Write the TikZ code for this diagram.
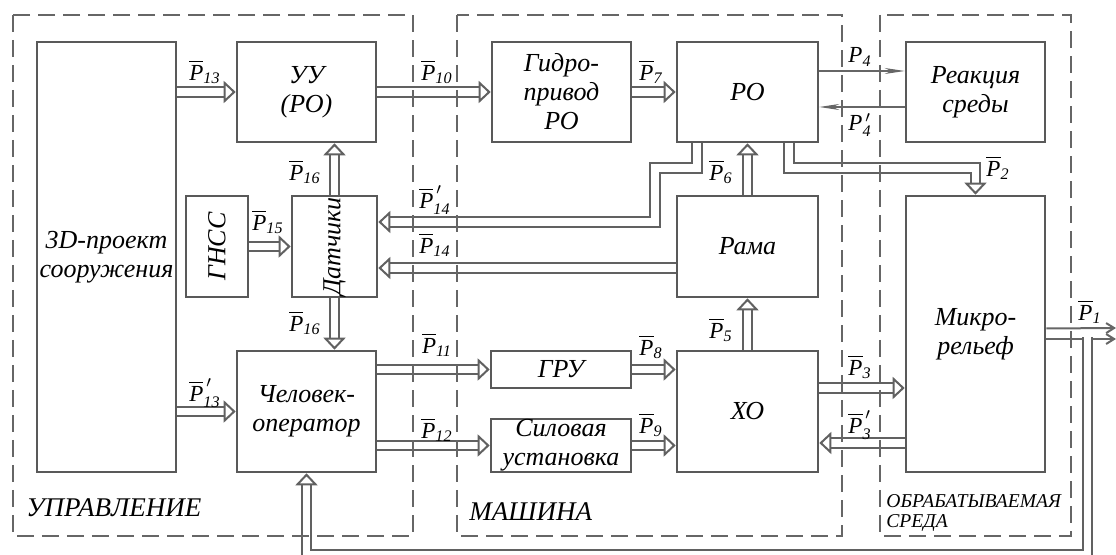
\documentclass[tikz,border=0pt]{standalone}
\usepackage{amsmath}
\usepackage{fontspec}
\setmainfont{Liberation Serif}
\usetikzlibrary{arrows.meta}
\tikzset{
  blk/.style ={draw=black!65, line width=1.3pt, inner sep=0pt, align=center,
               font=\fontsize{13}{14.5}\selectfont\itshape},
  zone/.style={draw=black!60, line width=1pt, dash pattern=on 8.5pt off 4pt},
  chan/.style={draw=black!62, line width=1pt, double=white,
               double distance=3.6pt,
               -{Triangle[length=6pt, width=11pt, fill=white, line width=1pt]}},
  sig/.style ={draw=black!60, line width=0.6pt,
               -{Stealth[length=10pt, width=3pt]}},
  ray/.style ={draw=black!60, line width=1pt,
               -{Straight Barb[length=4pt, width=5pt]}},
  plab/.style={font=\fontsize{11.5}{12}\selectfont, inner sep=0pt},
  zlab/.style={font=\fontsize{13.5}{15}\selectfont\itshape, inner sep=0pt,
               anchor=west},
}
\newcommand{\pvec}[1]{$\overline{\text{\itshape P}}_{\text{\itshape #1}}$}
\newcommand{\pvecp}[1]{$\overline{\text{\itshape P}}^{\,\prime}_{\text{\itshape #1}}$}
\newcommand{\pval}[1]{$\text{\itshape P}_{\text{\itshape #1}}$}
\newcommand{\pvalp}[1]{$\text{\itshape P}^{\,\prime}_{\text{\itshape #1}}$}
\begin{document}
\begin{tikzpicture}[x=0.5pt, y=-0.5pt]
  \clip (0,0) rectangle (1116,555);
  % control side
  \node[blk, minimum width=69.5pt, minimum height=215pt] (proj) at (106.5,257) {3D-проект\\сооружения};
  \node[blk, minimum width=69.5pt, minimum height=50pt] (uu) at (306.5,92) {УУ\\(РО)};
  \node[blk, rotate=90, minimum width=50.5pt, minimum height=31pt] (gnss) at (217,246.5) {ГНСС};
  \node[blk, rotate=90, minimum width=50.5pt, minimum height=42.5pt] (sens) at (334.5,246.5) {Датчики};
  \node[blk, minimum width=69.5pt, minimum height=60.5pt] (oper) at (306.5,411.5) {Человек-\\оператор};
  % machine
  \node[blk, minimum width=69.5pt, minimum height=50pt] (gidro) at (561.5,92) {Гидро-\\привод\\РО};
  \node[blk, minimum width=70.5pt, minimum height=50pt] (ro) at (747.5,92) {РО};
  \node[blk, minimum width=70.5pt, minimum height=50.5pt] (rama) at (747.5,246.5) {Рама};
  \node[blk, minimum width=70pt, minimum height=18.5pt] (gru) at (561,369.5) {ГРУ};
  \node[blk, minimum width=70pt, minimum height=26.5pt] (silo) at (561,445.5) {Силовая\\установка};
  \node[blk, minimum width=70.5pt, minimum height=60.5pt] (xo) at (747.5,411.5) {ХО};
  % medium
  \node[blk, minimum width=69.5pt, minimum height=50pt] (react) at (975.5,92) {Реакция\\среды};
  \node[blk, minimum width=69.5pt, minimum height=138pt] (micro) at (975.5,334) {Микро-\\рельеф};
  % free ends
  \coordinate (p1a) at (1116,328);
  \coordinate (p1b) at (1116,339);
  \coordinate (fbtop) at (1087.5,337.5);
  \coordinate (fbcorner) at (1087.5,554.5);

  % double channels
  \draw[chan] (uu.west -| proj.east) -- (uu.west);
  \draw[chan] (oper.west -| proj.east) -- (oper.west);
  \draw[chan] (uu.east) -- (gidro.west);
  \draw[chan] (gidro.east) -- (ro.west);
  \draw[chan] (sens.east) -- (uu.south -| sens.east);
  \draw[chan] (sens.west) -- (oper.north -| sens.west);
  \draw[chan] (gnss.south) -- (sens.north);
  \draw[chan] ([xshift=-25.25pt]ro.south) -- (697,168) -- (655,168) -- (655,222)
    -- (sens.south |- 655,222);
  \draw[chan] ([yshift=-10.75pt]rama.west) -- ([yshift=-10.75pt]rama.west -| sens.south);
  \draw[chan] (rama.north) -- (ro.south);
  \draw[chan] ([xshift=20.75pt]ro.south) -- (789,168) -- (micro.north |- 789,168)
    -- (micro.north);
  \draw[chan] (xo.north) -- (rama.south);
  \draw[chan] (gru.west -| oper.east) -- (gru.west);
  \draw[chan] (silo.west -| oper.east) -- (silo.west);
  \draw[chan] (gru.east) -- (gru.east -| xo.west);
  \draw[chan] (silo.east) -- (silo.east -| xo.west);
  \draw[chan] ([yshift=11.75pt]xo.east) -- ([yshift=11.75pt]xo.east -| micro.west);
  \draw[chan] ([yshift=-15.75pt]xo.east -| micro.west) -- ([yshift=-15.75pt]xo.east);
  % thin links to the medium reaction
  \draw[sig] ([yshift=10.5pt]ro.east) -- ([yshift=10.5pt]react.west);
  \draw[sig] ([yshift=-7.5pt]react.west) -- ([yshift=-7.5pt]ro.east);
  % output and feedback
  \draw[ray] ([yshift=2.75pt]micro.east) -- (p1a);
  \draw[ray] ([yshift=-2.5pt]micro.east) -- (p1b);
  \draw[chan] (fbtop) -- (fbcorner) -| (oper.south);

  % labels
  \node[plab] (l13) at (205,72) {\pvec{13}};
  \node[plab] (l13p) at (205,393) {\pvecp{13}};
  \node[plab] (l10) at (437,72) {\pvec{10}};
  \node[plab] (l7) at (651,72) {\pvec{7}};
  \node[plab] (l4) at (860,57) {\pval{4}};
  \node[plab] (l4p) at (860,125) {\pvalp{4}};
  \node[plab] (l16a) at (305,172) {\pvec{16}};
  \node[plab] (l16b) at (305,323) {\pvec{16}};
  \node[plab] (l15) at (268,222) {\pvec{15}};
  \node[plab] (l14p) at (435,200) {\pvecp{14}};
  \node[plab] (l14) at (435,245) {\pvec{14}};
  \node[plab] (l6) at (721,172) {\pvec{6}};
  \node[plab] (l2) at (998,168) {\pvec{2}};
  \node[plab] (l5) at (721,330) {\pvec{5}};
  \node[plab] (l11) at (437,345) {\pvec{11}};
  \node[plab] (l8) at (651,347) {\pvec{8}};
  \node[plab] (l12) at (437,430) {\pvec{12}};
  \node[plab] (l9) at (651,425) {\pvec{9}};
  \node[plab] (l3) at (860,367) {\pvec{3}};
  \node[plab] (l3p) at (860,425) {\pvecp{3}};
  \node[plab] (l1) at (1090,312) {\pvec{1}};

  % zones
  \draw[zone] (13,15) rectangle (413,536);
  \draw[zone] (457,15) rectangle (842,536);
  \draw[zone] (880,15) rectangle (1071,536);
  \node[zlab] (zctl) at (26,508) {УПРАВЛЕНИЕ};
  \node[zlab] (zmach) at (469,512) {МАШИНА};
  \node[zlab, anchor=north west, align=left, font=\fontsize{9.8}{10}\selectfont\itshape]
    (zenv) at (886,494) {ОБРАБАТЫВАЕМАЯ\\СРЕДА};
\end{tikzpicture}
\end{document}
